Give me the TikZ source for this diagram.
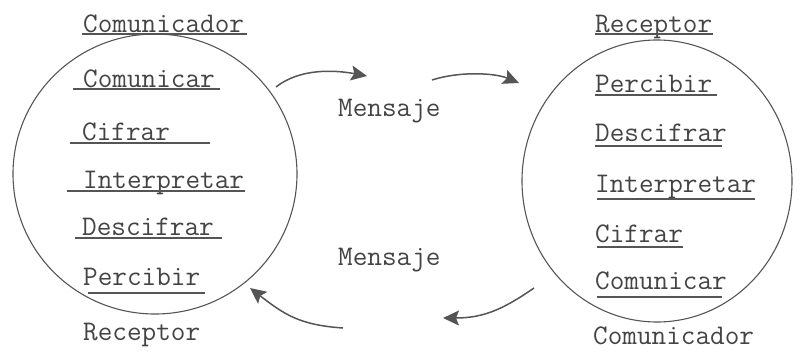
\documentclass[tikz,border=0pt]{standalone}
\usepackage{fontspec}
\usetikzlibrary{arrows.meta}
\definecolor{ink}{HTML}{444444}
\definecolor{pen}{HTML}{555555}
\tikzset{
  lbl/.style={anchor=base west, inner sep=0pt, text=ink, font=\ttfamily\fontsize{28.4}{32}\selectfont},
  uline/.style={draw=pen, line width=1.1pt},
  ring/.style={draw=pen, line width=1.1pt},
  flow/.style={draw=pen, line width=1.5pt, -{Stealth[length=16pt,width=15pt,inset=3pt]}}
}
\begin{document}
\begin{tikzpicture}[x=1pt,y=-1pt]
\useasboundingbox (0,0) rectangle (801,351);
% circles
\draw[ring] (155,174) ellipse [x radius=142, y radius=140];
\draw[ring] (657,181) ellipse [x radius=135, y radius=141];
% left texts
\node[lbl] (lc) at (83,32) {Comunicador};
\node[lbl] (l1) at (83,87) {Comunicar};
\node[lbl] (l2) at (82,140) {Cifrar};
\node[lbl] (l3) at (83,188) {Interpretar};
\node[lbl] (l4) at (82,235) {Descifrar};
\node[lbl] (l5) at (83,285) {Percibir};
\node[lbl] (lr) at (83,340) {Receptor};
% left underlines
\draw[uline] (82,34) -- (247,34);
\draw[uline] (73,89) -- (220,89);
\draw[uline] (70,143) -- (210,143);
\draw[uline] (67,191) -- (245,191);
\draw[uline] (75,238) -- (222,238);
\draw[uline] (88,293) -- (205,293);
% right texts
\node[lbl] (rr) at (595,32) {Receptor};
\node[lbl] (r1) at (595,92) {Percibir};
\node[lbl] (r2) at (595,141) {Descifrar};
\node[lbl] (r3) at (595,192) {Interpretar};
\node[lbl] (r4) at (595,242) {Cifrar};
\node[lbl] (r5) at (595,289) {Comunicar};
\node[lbl] (rc) at (593,344) {Comunicador};
% right underlines
\draw[uline] (595,34) -- (713,34);
\draw[uline] (595,95) -- (717,95);
\draw[uline] (595,146) -- (722,146);
\draw[uline] (597,199) -- (755,199);
\draw[uline] (597,247) -- (683,247);
\draw[uline] (597,297) -- (722,297);
% messages
\node[lbl] (m1) at (338,116) {Mensaje};
\node[lbl] (m2) at (338,265) {Mensaje};
% arrows
\coordinate (a1s) at (276,87);
\coordinate (a1e) at (367,76);
\coordinate (a2s) at (432,80);
\coordinate (a2e) at (519,83);
\coordinate (b1s) at (534,288);
\coordinate (b1e) at (443,318);
\coordinate (b2s) at (343,328);
\coordinate (b2e) at (250,288);
\draw[flow] (a1s) .. controls (300,68) and (335,70) .. (a1e);
\draw[flow] (a2s) .. controls (460,71) and (495,73) .. (a2e);
\draw[flow] (b1s) .. controls (505,308) and (485,318) .. (b1e);
\draw[flow] (b2s) .. controls (300,325) and (285,315) .. (b2e);
\end{tikzpicture}
\end{document}
